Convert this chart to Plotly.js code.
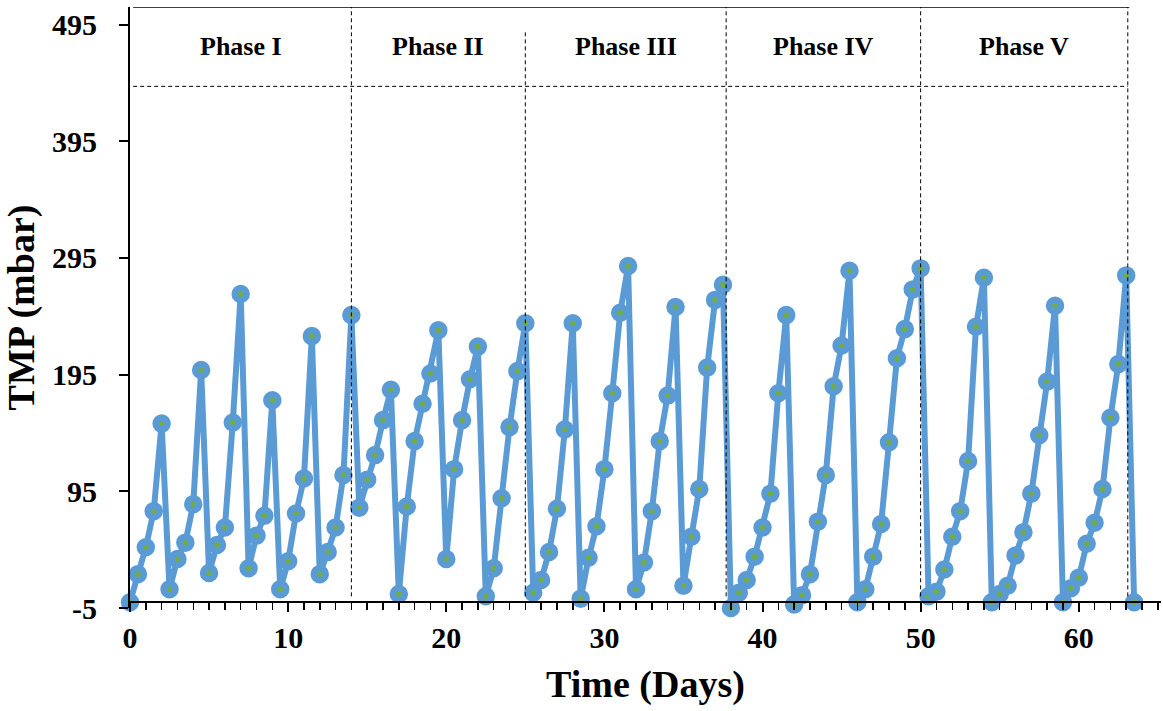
<!DOCTYPE html>
<html>
<head>
<meta charset="utf-8">
<script src="https://cdn.plot.ly/plotly-3.0.1.min.js"></script>
<style>
  html, body { margin: 0; padding: 0; background: #fff; }
  #chart { width: 1163px; height: 711px; }
</style>
</head>
<body>
<div id="chart"></div>
<script>
// Time (days) of each TMP reading
const days = [
  0, 0.5, 1, 1.5, 2, 2.5, 3, 3.5, 4, 4.5, 5, 5.5, 6, 6.5, 7, 7.5, 8, 8.5, 9, 9.5,
  10, 10.5, 11, 11.5, 12, 12.5, 13, 13.5, 14, 14.5, 15, 15.5, 16, 16.5, 17, 17.5, 18, 18.5, 19, 19.5,
  20, 20.5, 21, 21.5, 22, 22.5, 23, 23.5, 24, 24.5, 25, 25.5, 26, 26.5, 27, 27.5, 28, 28.5, 29, 29.5,
  30, 30.5, 31, 31.5, 32, 32.5, 33, 33.5, 34, 34.5, 35, 35.5, 36, 36.5, 37, 37.5, 38, 38.5, 39, 39.5,
  40, 40.5, 41, 41.5, 42, 42.5, 43, 43.5, 44, 44.5, 45, 45.5, 46, 46.5, 47, 47.5, 48, 48.5, 49, 49.5,
  50, 50.5, 51, 51.5, 52, 52.5, 53, 53.5, 54, 54.5, 55, 55.5, 56, 56.5, 57, 57.5, 58, 58.5, 59, 59.5,
  60, 60.5, 61, 61.5, 62, 62.5, 63, 63.5
];

// TMP (mbar)
const tmp = [
  0, 24, 47, 78, 153, 11, 37, 51, 84, 199, 25, 49, 64, 154, 264, 29, 57, 74, 173, 11,
  35, 76, 106, 228, 24, 43, 64, 109, 246, 81, 105, 126, 156, 182, 7, 82, 138, 170, 196, 233,
  37, 114, 156, 191, 219, 5, 29, 89, 150, 198, 239, 8, 19, 43, 80, 148, 239, 3, 38, 65,
  114, 179, 248, 288, 11, 34, 78, 138, 177, 253, 14, 56, 97, 201, 259, 272, -5, 8, 19, 39,
  64, 93, 179, 246, -2, 6, 24, 69, 109, 185, 220, 284, 0, 11, 39, 67, 137, 209, 234, 268,
  286, 5, 9, 28, 56, 78, 121, 236, 278, 0, 7, 14, 40, 60, 93, 143, 189, 254, 0, 12,
  21, 50, 68, 97, 158, 204, 280, 0
];

// Phase boundaries (days) and phase names
const phaseEdges = [0, 14, 25, 37.7, 50, 63.1];
const phaseNames = ["Phase I", "Phase II", "Phase III", "Phase IV", "Phase V"];

// Axis ticks
const yTicks = [-5, 95, 195, 295, 395, 495];
const yTickText = ["-5", "95", "195", "295", "395", "495"];
const xTicks = [0, 10, 20, 30, 40, 50, 60];

const FONT = "'Liberation Serif', 'Times New Roman', serif";
const yMin = -5, yMax = 510;
const headerLine = 442;

const trace = {
  x: days,
  y: tmp,
  type: 'scatter',
  mode: 'lines+markers',
  cliponaxis: false,
  line: { color: '#5B9BD5', width: 6 },
  marker: { symbol: 'circle', size: 12, color: '#70AD47', line: { color: '#5B9BD5', width: 6.5 } },
  hoverinfo: 'x+y'
};

const shapes = [];
// top border of header box
shapes.push({ type: 'line', xref: 'x', yref: 'y', x0: 0.2, x1: 63.2, y0: yMax, y1: yMax,
  line: { color: '#000', width: 1.5 } });
// dashed header bottom line
shapes.push({ type: 'line', xref: 'x', yref: 'y', x0: 0.2, x1: phaseEdges[5], y0: headerLine, y1: headerLine,
  line: { color: '#000', width: 1, dash: '4px,3px' } });
// phase boundaries
for (let i = 1; i < phaseEdges.length; i++) {
  const top = (i === 2) ? 490 : yMax;
  shapes.push({ type: 'line', xref: 'x', yref: 'y', x0: phaseEdges[i], x1: phaseEdges[i], y0: 5, y1: top,
    line: { color: '#000', width: 1, dash: '4px,3px' } });
}

const annotations = phaseNames.map((name, i) => ({
  x: (phaseEdges[i] + phaseEdges[i + 1]) / 2,
  y: 476,
  xref: 'x', yref: 'y',
  text: name,
  showarrow: false,
  font: { family: FONT, size: 26, color: '#000', weight: 'bold' }
}));

const layout = {
  width: 1163,
  height: 711,
  margin: { l: 130, r: 2, t: 7, b: 103 },
  paper_bgcolor: '#fff',
  plot_bgcolor: '#fff',
  showlegend: false,
  font: { family: FONT, color: '#000' },
  xaxis: {
    range: [0, 65.2],
    tickvals: xTicks,
    ticks: 'outside',
    ticklen: 9,
    tickwidth: 2,
    tickcolor: '#000',
    minor: { dtick: 1, tick0: 0, ticks: 'outside', ticklen: 7, tickwidth: 1.5, tickcolor: '#000', showgrid: false },
    showline: true,
    linecolor: '#000',
    linewidth: 2,
    showgrid: false,
    zeroline: false,
    anchor: 'free',
    position: (0 - yMin) / (yMax - yMin),
    tickfont: { family: FONT, size: 30, color: '#000', weight: 'bold' },
    title: { text: 'Time (Days)', font: { family: FONT, size: 38, color: '#000', weight: 'bold' }, standoff: 16 },
    automargin: false
  },
  yaxis: {
    range: [yMin, yMax],
    tickvals: yTicks,
    ticktext: yTickText,
    ticks: 'outside',
    ticklen: 9,
    tickwidth: 2,
    tickcolor: '#000',
    ticklabelstandoff: 16,
    showline: true,
    linecolor: '#000',
    linewidth: 2,
    showgrid: false,
    zeroline: false,
    tickfont: { family: FONT, size: 30, color: '#000', weight: 'bold' },
    title: { text: 'TMP (mbar)', font: { family: FONT, size: 38, color: '#000', weight: 'bold' }, standoff: 8 },
    automargin: false
  },
  shapes: shapes,
  annotations: annotations
};

Plotly.newPlot('chart', [trace], layout, { displayModeBar: false, staticPlot: true });
</script>
</body>
</html>
